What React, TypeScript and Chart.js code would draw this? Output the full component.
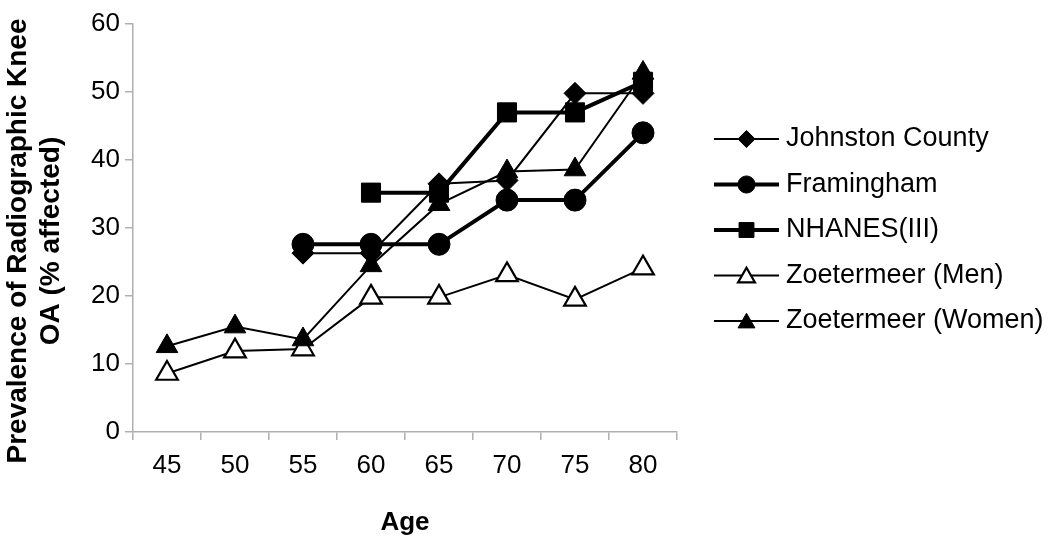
import { useEffect, useRef } from "react";
import { Chart, registerables } from "chart.js";

Chart.register(...registerables);

const ages = ["45", "50", "55", "60", "65", "70", "75", "80"];
const johnstonCounty = [null, null, 26.3, 26.3, 36.5, 37, 49.8, 49.8];
const framingham = [null, null, 27.6, 27.6, 27.6, 34.1, 34.1, 44];
const nhanes = [null, null, null, 35.2, 35.2, 47, 47, 51.5];
const zoetermeerMen = [8.6, 11.9, 12.2, 19.8, 19.8, 23.1, 19.5, 24.1];
const zoetermeerWomen = [12.6, 15.5, 13.6, 24.5, 33.5, 38.3, 38.6, 52.8];
const seriesNames = [
  "Johnston County",
  "Framingham",
  "NHANES(III)",
  "Zoetermeer (Men)",
  "Zoetermeer (Women)",
];
const yTitleLines = ["Prevalence of Radiographic Knee", "OA (% affected)"];
const xTitle = "Age";

const FONT = "'Liberation Sans', Arial, sans-serif";
const AXIS_GRAY = "#b0b0b0";

function drawMarker(ctx: CanvasRenderingContext2D, style: string, x: number, y: number, r: number, fill: string, bw: number) {
  ctx.beginPath();
  if (style === "rectRot") {
    ctx.moveTo(x, y - r);
    ctx.lineTo(x + r, y);
    ctx.lineTo(x, y + r);
    ctx.lineTo(x - r, y);
    ctx.closePath();
  } else if (style === "circle") {
    ctx.arc(x, y, r, 0, Math.PI * 2);
  } else if (style === "rect") {
    const s = r * Math.SQRT1_2;
    ctx.rect(x - s, y - s, 2 * s, 2 * s);
  } else if (style === "triangle") {
    ctx.moveTo(x, y - r);
    ctx.lineTo(x + r * Math.sin(Math.PI / 3), y + r / 2);
    ctx.lineTo(x - r * Math.sin(Math.PI / 3), y + r / 2);
    ctx.closePath();
  }
  ctx.fillStyle = fill;
  ctx.fill();
  ctx.lineWidth = bw;
  ctx.strokeStyle = "#000";
  ctx.stroke();
}

const sideLegend = {
  id: "sideLegend",
  afterDraw(chart: any) {
    const ctx: CanvasRenderingContext2D = chart.ctx;
    const items = chart.data.datasets;
    ctx.save();
    items.forEach((ds: any, i: number) => {
      const y = 139 + i * 45.5;
      ctx.beginPath();
      ctx.moveTo(714, y);
      ctx.lineTo(779, y);
      ctx.lineWidth = ds.borderWidth;
      ctx.strokeStyle = "#000";
      ctx.stroke();
      drawMarker(ctx, ds.pointStyle, 746.5, y + (ds.pointStyle === "triangle" ? 2 : 0), ds.pointRadius * 0.78, ds.pointBackgroundColor, ds.pointBorderWidth);
      ctx.fillStyle = "#000";
      ctx.font = `27px ${FONT}`;
      ctx.textAlign = "left";
      ctx.textBaseline = "middle";
      ctx.fillText(ds.label, 786, y);
    });
    ctx.restore();
  },
};

const yTitlePlugin = {
  id: "yTitle",
  afterDraw(chart: any) {
    const ctx: CanvasRenderingContext2D = chart.ctx;
    ctx.save();
    ctx.fillStyle = "#000";
    ctx.font = `bold 28px ${FONT}`;
    ctx.textAlign = "center";
    ctx.textBaseline = "middle";
    const cy = 241;
    const xs = [18, 51];
    yTitleLines.forEach((line, i) => {
      ctx.save();
      ctx.translate(xs[i], cy);
      ctx.rotate(-Math.PI / 2);
      ctx.fillText(line, 0, 0);
      ctx.restore();
    });
    ctx.restore();
  },
};

export default function App() {
  const ref = useRef<HTMLCanvasElement | null>(null);
  useEffect(() => {
    if (!ref.current) return;
    const mk = (label: string, data: any[], style: string, r: number, lw: number, fill: string, pbw: number, order: number) => ({
      label,
      data,
      borderColor: "#000",
      backgroundColor: fill,
      borderWidth: lw,
      pointStyle: style,
      pointRadius: r,
      pointBackgroundColor: fill,
      pointBorderColor: "#000",
      pointBorderWidth: pbw,
      tension: 0,
      fill: false,
      order,
    });
    const chart = new Chart(ref.current, {
      type: "line",
      data: {
        labels: ages,
        datasets: [
          mk(seriesNames[0], johnstonCounty, "rectRot", 11, 2, "#000", 1, 4),
          mk(seriesNames[1], framingham, "circle", 11, 4, "#000", 1, 3),
          mk(seriesNames[2], nhanes, "rect", 13.5, 4, "#000", 1, 2),
          mk(seriesNames[3], zoetermeerMen, "triangle", 12.5, 2, "#fff", 2.2, 1),
          mk(seriesNames[4], zoetermeerWomen, "triangle", 12.5, 2, "#000", 1, 0),
        ] as any,
      },
      options: {
        animation: false,
        responsive: false,
        maintainAspectRatio: false,
        layout: { padding: { left: 0, right: 373, top: 24, bottom: 0 } },
        plugins: {
          legend: { display: false },
          tooltip: { enabled: false },
        },
        scales: {
          x: {
            type: "category",
            offset: true,
            afterFit: (s: any) => {
              s.height = 111;
            },
            grid: {
              offset: true,
              drawOnChartArea: false,
              tickLength: 8,
              color: AXIS_GRAY,
              lineWidth: 1.5,
            },
            border: { color: AXIS_GRAY, width: 1.5 },
            ticks: {
              color: "#000",
              padding: 10,
              maxRotation: 0,
              font: { family: FONT, size: 26 },
            },
            title: {
              display: true,
              text: xTitle,
              color: "#000",
              font: { family: FONT, size: 26, weight: "bold" },
              padding: { top: 0, bottom: 5 },
            },
          },
          y: {
            min: 0,
            max: 60,
            afterFit: (s: any) => {
              s.width = 133;
            },
            grid: {
              drawOnChartArea: false,
              tickLength: 8,
              color: AXIS_GRAY,
              lineWidth: 1.5,
            },
            border: { color: AXIS_GRAY, width: 1.5 },
            ticks: {
              stepSize: 10,
              color: "#000",
              padding: 5,
              font: { family: FONT, size: 26 },
            },
          },
        },
      } as any,
      plugins: [sideLegend, yTitlePlugin],
    });
    return () => chart.destroy();
  }, []);
  return (
    <div style={{ position: "fixed", left: 0, top: 0, width: 1050, height: 543, background: "#fff" }}>
      <canvas ref={ref} width={1050} height={543} style={{ display: "block" }} />
    </div>
  );
}
